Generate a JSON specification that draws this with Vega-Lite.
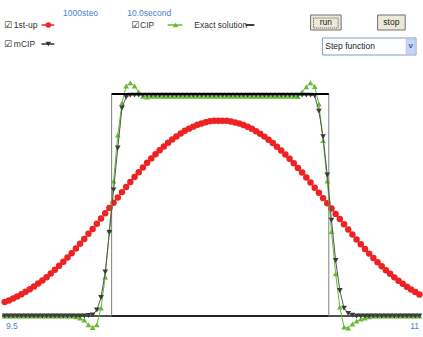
{
"$schema": "https://vega.github.io/schema/vega-lite/v6.json",
"width": 423, "height": 337,
"autosize": {"type": "fit", "contains": "padding"},
"padding": 0,
"background": "white",
"config": {"view": {"stroke": null}, "font": "Liberation Sans"},
"datasets": {
"grid": [
{"x":9.5,"up":0.063,"cip":0,"mcip":0},{"x":9.515,"up":0.070,"cip":0,"mcip":0},{"x":9.53,"up":0.079,"cip":0,"mcip":0},{"x":9.545,"up":0.088,"cip":0,"mcip":0},{"x":9.56,"up":0.098,"cip":0,"mcip":0},
{"x":9.575,"up":0.109,"cip":0,"mcip":0},{"x":9.59,"up":0.120,"cip":0,"mcip":0},{"x":9.605,"up":0.133,"cip":0,"mcip":0},{"x":9.62,"up":0.146,"cip":0,"mcip":0},{"x":9.635,"up":0.160,"cip":0,"mcip":0},
{"x":9.65,"up":0.175,"cip":0,"mcip":0},{"x":9.665,"up":0.191,"cip":0,"mcip":0},{"x":9.68,"up":0.208,"cip":0,"mcip":0},{"x":9.695,"up":0.226,"cip":0,"mcip":0},{"x":9.71,"up":0.244,"cip":0,"mcip":0},
{"x":9.725,"up":0.263,"cip":0,"mcip":0},{"x":9.74,"up":0.283,"cip":0,"mcip":0},{"x":9.755,"up":0.304,"cip":-0.004,"mcip":0},{"x":9.77,"up":0.325,"cip":-0.009,"mcip":0},{"x":9.785,"up":0.347,"cip":-0.018,"mcip":0},
{"x":9.8,"up":0.370,"cip":-0.04,"mcip":0.002},{"x":9.815,"up":0.392,"cip":-0.052,"mcip":0.005},{"x":9.83,"up":0.416,"cip":-0.04,"mcip":0.027},{"x":9.845,"up":0.439,"cip":0.036,"mcip":0.083},{"x":9.86,"up":0.463,"cip":0.176,"mcip":0.198},
{"x":9.875,"up":0.487,"cip":0.387,"mcip":0.376},{"x":9.89,"up":0.510,"cip":0.608,"mcip":0.568},{"x":9.905,"up":0.534,"cip":0.815,"mcip":0.757},{"x":9.92,"up":0.558,"cip":0.959,"mcip":0.937},{"x":9.935,"up":0.581,"cip":1.036,"mcip":0.986},
{"x":9.95,"up":0.604,"cip":1.05,"mcip":0.995},{"x":9.965,"up":0.626,"cip":1.036,"mcip":0.995},{"x":9.98,"up":0.648,"cip":1.009,"mcip":0.995},{"x":9.995,"up":0.669,"cip":0.99,"mcip":0.995},{"x":10.01,"up":0.690,"cip":0.986,"mcip":0.995},
{"x":10.025,"up":0.710,"cip":0.99,"mcip":0.995},{"x":10.04,"up":0.729,"cip":0.99,"mcip":0.995},{"x":10.055,"up":0.747,"cip":0.99,"mcip":0.995},{"x":10.07,"up":0.764,"cip":0.99,"mcip":0.995},{"x":10.085,"up":0.780,"cip":0.99,"mcip":0.995},
{"x":10.1,"up":0.795,"cip":0.99,"mcip":0.995},{"x":10.115,"up":0.809,"cip":0.99,"mcip":0.995},{"x":10.13,"up":0.822,"cip":0.99,"mcip":0.995},{"x":10.145,"up":0.834,"cip":0.99,"mcip":0.995},{"x":10.16,"up":0.844,"cip":0.99,"mcip":0.995},
{"x":10.175,"up":0.853,"cip":0.99,"mcip":0.995},{"x":10.19,"up":0.861,"cip":0.99,"mcip":0.995},{"x":10.205,"up":0.867,"cip":0.99,"mcip":0.995},{"x":10.22,"up":0.873,"cip":0.99,"mcip":0.995},{"x":10.235,"up":0.877,"cip":0.99,"mcip":0.995},
{"x":10.25,"up":0.879,"cip":0.99,"mcip":0.995},{"x":10.265,"up":0.880,"cip":0.99,"mcip":0.995},{"x":10.28,"up":0.880,"cip":0.99,"mcip":0.995},{"x":10.295,"up":0.879,"cip":0.99,"mcip":0.995},{"x":10.31,"up":0.876,"cip":0.99,"mcip":0.995},
{"x":10.325,"up":0.872,"cip":0.99,"mcip":0.995},{"x":10.34,"up":0.867,"cip":0.99,"mcip":0.995},{"x":10.355,"up":0.860,"cip":0.99,"mcip":0.995},{"x":10.37,"up":0.852,"cip":0.99,"mcip":0.995},{"x":10.385,"up":0.843,"cip":0.99,"mcip":0.995},
{"x":10.4,"up":0.832,"cip":0.99,"mcip":0.995},{"x":10.415,"up":0.821,"cip":0.99,"mcip":0.995},{"x":10.43,"up":0.808,"cip":0.99,"mcip":0.995},{"x":10.445,"up":0.794,"cip":0.99,"mcip":0.995},{"x":10.46,"up":0.779,"cip":0.99,"mcip":0.995},
{"x":10.475,"up":0.762,"cip":0.99,"mcip":0.995},{"x":10.49,"up":0.745,"cip":0.99,"mcip":0.995},{"x":10.505,"up":0.727,"cip":0.99,"mcip":0.995},{"x":10.52,"up":0.708,"cip":0.99,"mcip":0.995},{"x":10.535,"up":0.688,"cip":0.99,"mcip":0.995},
{"x":10.55,"up":0.667,"cip":0.988,"mcip":0.995},{"x":10.565,"up":0.646,"cip":1.009,"mcip":0.995},{"x":10.58,"up":0.624,"cip":1.032,"mcip":0.995},{"x":10.595,"up":0.601,"cip":1.05,"mcip":0.995},{"x":10.61,"up":0.578,"cip":1.034,"mcip":0.992},
{"x":10.625,"up":0.555,"cip":0.955,"mcip":0.923},{"x":10.64,"up":0.531,"cip":0.79,"mcip":0.808},{"x":10.655,"up":0.508,"cip":0.608,"mcip":0.635},{"x":10.67,"up":0.484,"cip":0.38,"mcip":0.432},{"x":10.685,"up":0.460,"cip":0.19,"mcip":0.25},
{"x":10.7,"up":0.437,"cip":0.04,"mcip":0.115},{"x":10.715,"up":0.413,"cip":-0.05,"mcip":0.035},{"x":10.73,"up":0.390,"cip":-0.054,"mcip":0.012},{"x":10.745,"up":0.367,"cip":-0.036,"mcip":0.004},{"x":10.76,"up":0.345,"cip":-0.023,"mcip":0},
{"x":10.775,"up":0.323,"cip":-0.014,"mcip":0},{"x":10.79,"up":0.302,"cip":-0.009,"mcip":0},{"x":10.805,"up":0.281,"cip":-0.004,"mcip":0},{"x":10.82,"up":0.261,"cip":0,"mcip":0},{"x":10.835,"up":0.242,"cip":0,"mcip":0},
{"x":10.85,"up":0.224,"cip":0,"mcip":0},{"x":10.865,"up":0.206,"cip":0,"mcip":0},{"x":10.88,"up":0.190,"cip":0,"mcip":0},{"x":10.895,"up":0.174,"cip":0,"mcip":0},{"x":10.91,"up":0.159,"cip":0,"mcip":0},
{"x":10.925,"up":0.145,"cip":0,"mcip":0},{"x":10.94,"up":0.132,"cip":0,"mcip":0},{"x":10.955,"up":0.119,"cip":0,"mcip":0},{"x":10.97,"up":0.108,"cip":0,"mcip":0},{"x":10.985,"up":0.097,"cip":0,"mcip":0}
],
"exact": [{"x":9.4905,"y":0,"o":0},{"x":9.883,"y":0,"o":1},{"x":9.883,"y":1,"o":2},{"x":10.6605,"y":1,"o":3},{"x":10.6605,"y":0,"o":4},{"x":10.9834,"y":0,"o":5}],
"legend": [
{"series":"1st-up","x":9.6317,"x2":9.6776,"xm":9.6564,"y":1.3108},
{"series":"CIP","x":10.0834,"x2":10.1364,"xm":10.1117,"y":1.3108},
{"series":"mCIP","x":9.6317,"x2":9.6776,"xm":9.6564,"y":1.2252},
{"series":"Exact solution","x":10.3623,"x2":10.394,"xm":10.378,"y":1.3108}
],
"labels": [{"label":"1st-up","x":9.5329,"y":1.3108},{"label":"CIP","x":9.9846,"y":1.3108},{"label":"Exact solution","x":10.1787,"y":1.3108},{"label":"mCIP","x":9.5329,"y":1.2252}],
"checks": [{"x":9.4976,"y":1.3108},{"x":9.9529,"y":1.3108},{"x":9.4976,"y":1.2252}],
"info": [{"label":"1000steo","x":9.7093,"y":1.3649},{"label":"10.0second","x":9.9387,"y":1.3649}],
"buttons": [{"label":"run","x":10.5952,"x2":10.7046,"y":1.3559,"y2":1.2883,"xm":10.6499,"ym":1.3221},{"label":"stop","x":10.8352,"x2":10.934,"y":1.3559,"y2":1.2883,"xm":10.8846,"ym":1.3221}]
},
"layer": [
{"data":{"values":[{"y":0}]},"mark":{"type":"rule","color":"#222222","strokeWidth":2},
 "encoding":{"y":{"field":"y","type":"quantitative","scale":{"domain":[-0.0946,1.4234],"nice":false,"zero":false},"axis":null}}},
{"data":{"name":"exact"},"mark":{"type":"line","color":"#808080","strokeWidth":1},
 "encoding":{"x":{"field":"x","type":"quantitative","scale":{"domain":[9.4905,10.9834],"nice":false,"zero":false},"axis":null},
 "y":{"field":"y","type":"quantitative","scale":{"domain":[-0.0946,1.4234],"nice":false,"zero":false},"axis":null},
 "order":{"field":"o","type":"quantitative"}}},
{"data":{"name":"grid"},"mark":{"type":"line","color":"#ee2222","strokeWidth":1},
 "encoding":{"x":{"field":"x","type":"quantitative","scale":{"domain":[9.4905,10.9834],"nice":false,"zero":false},"axis":null},
 "y":{"field":"up","type":"quantitative","scale":{"domain":[-0.0946,1.4234],"nice":false,"zero":false},"axis":null}}},
{"data":{"name":"grid"},"mark":{"type":"point","shape":"circle","filled":true,"opacity":1,"size":42,"color":"#ee2222"},
 "encoding":{"x":{"field":"x","type":"quantitative","scale":{"domain":[9.4905,10.9834],"nice":false,"zero":false},"axis":null},
 "y":{"field":"up","type":"quantitative","scale":{"domain":[-0.0946,1.4234],"nice":false,"zero":false},"axis":null}}},
{"data":{"name":"grid"},"mark":{"type":"line","color":"#66bb33","strokeWidth":1},
 "encoding":{"x":{"field":"x","type":"quantitative","scale":{"domain":[9.4905,10.9834],"nice":false,"zero":false},"axis":null},
 "y":{"field":"cip","type":"quantitative","scale":{"domain":[-0.0946,1.4234],"nice":false,"zero":false},"axis":null}}},
{"data":{"name":"grid"},"mark":{"type":"point","shape":"triangle-up","filled":true,"opacity":1,"size":32,"color":"#66bb33"},
 "encoding":{"x":{"field":"x","type":"quantitative","scale":{"domain":[9.4905,10.9834],"nice":false,"zero":false},"axis":null},
 "y":{"field":"cip","type":"quantitative","scale":{"domain":[-0.0946,1.4234],"nice":false,"zero":false},"axis":null}}},
{"data":{"name":"grid"},"mark":{"type":"line","color":"#555555","strokeWidth":1},
 "encoding":{"x":{"field":"x","type":"quantitative","scale":{"domain":[9.4905,10.9834],"nice":false,"zero":false},"axis":null},
 "y":{"field":"mcip","type":"quantitative","scale":{"domain":[-0.0946,1.4234],"nice":false,"zero":false},"axis":null}}},
{"data":{"name":"grid"},"mark":{"type":"point","shape":"triangle-down","filled":true,"opacity":1,"size":32,"color":"#3a3a3a"},
 "encoding":{"x":{"field":"x","type":"quantitative","scale":{"domain":[9.4905,10.9834],"nice":false,"zero":false},"axis":null},
 "y":{"field":"mcip","type":"quantitative","scale":{"domain":[-0.0946,1.4234],"nice":false,"zero":false},"axis":null}}},
{"data":{"values":[{"x":9.883,"x2":10.6605,"y":1}]},"mark":{"type":"rule","color":"#000000","strokeWidth":2},
 "encoding":{"x":{"field":"x","type":"quantitative","scale":{"domain":[9.4905,10.9834],"nice":false,"zero":false},"axis":null},
 "x2":{"field":"x2"},
 "y":{"field":"y","type":"quantitative","scale":{"domain":[-0.0946,1.4234],"nice":false,"zero":false},"axis":null}}},
{"data":{"name":"legend"},"mark":{"type":"rule","strokeWidth":1.5},
 "encoding":{"x":{"field":"x","type":"quantitative","scale":{"domain":[9.4905,10.9834],"nice":false,"zero":false},"axis":null},
 "x2":{"field":"x2"},
 "y":{"field":"y","type":"quantitative","scale":{"domain":[-0.0946,1.4234],"nice":false,"zero":false},"axis":null},
 "color":{"field":"series","type":"nominal","scale":{"domain":["1st-up","CIP","mCIP","Exact solution"],"range":["#ee2222","#66bb33","#333333","#000000"]},"legend":null}}},
{"data":{"name":"legend"},"transform":[{"filter":"datum.series !== 'Exact solution'"}],"mark":{"type":"point","filled":true,"opacity":1,"size":30},
 "encoding":{"x":{"field":"xm","type":"quantitative","scale":{"domain":[9.4905,10.9834],"nice":false,"zero":false},"axis":null},
 "y":{"field":"y","type":"quantitative","scale":{"domain":[-0.0946,1.4234],"nice":false,"zero":false},"axis":null},
 "color":{"field":"series","type":"nominal","scale":{"domain":["1st-up","CIP","mCIP","Exact solution"],"range":["#ee2222","#66bb33","#333333","#000000"]},"legend":null},
 "shape":{"field":"series","type":"nominal","scale":{"domain":["1st-up","CIP","mCIP"],"range":["circle","triangle-up","triangle-down"]},"legend":null}}},
{"data":{"name":"checks"},"mark":{"type":"text","text":"☑","font":"DejaVu Sans","fontSize":9,"align":"left","baseline":"middle","color":"#222222"},
 "encoding":{"x":{"field":"x","type":"quantitative","scale":{"domain":[9.4905,10.9834],"nice":false,"zero":false},"axis":null},
 "y":{"field":"y","type":"quantitative","scale":{"domain":[-0.0946,1.4234],"nice":false,"zero":false},"axis":null}}},
{"data":{"name":"labels"},"mark":{"type":"text","fontSize":8.5,"align":"left","baseline":"middle","color":"#333333"},
 "encoding":{"x":{"field":"x","type":"quantitative","scale":{"domain":[9.4905,10.9834],"nice":false,"zero":false},"axis":null},
 "y":{"field":"y","type":"quantitative","scale":{"domain":[-0.0946,1.4234],"nice":false,"zero":false},"axis":null},
 "text":{"field":"label"}}},
{"data":{"name":"info"},"mark":{"type":"text","fontSize":8.5,"align":"left","baseline":"middle","color":"#4a7fcc"},
 "encoding":{"x":{"field":"x","type":"quantitative","scale":{"domain":[9.4905,10.9834],"nice":false,"zero":false},"axis":null},
 "y":{"field":"y","type":"quantitative","scale":{"domain":[-0.0946,1.4234],"nice":false,"zero":false},"axis":null},
 "text":{"field":"label"}}},
{"data":{"values":[{"label":"9.5","x":9.5046,"y":-0.0473}]},"mark":{"type":"text","fontSize":8.5,"align":"left","baseline":"middle","color":"#4a7fcc"},
 "encoding":{"x":{"field":"x","type":"quantitative","scale":{"domain":[9.4905,10.9834],"nice":false,"zero":false},"axis":null},
 "y":{"field":"y","type":"quantitative","scale":{"domain":[-0.0946,1.4234],"nice":false,"zero":false},"axis":null},
 "text":{"field":"label"}}},
{"data":{"values":[{"label":"11","x":10.9834,"y":-0.0473}]},"mark":{"type":"text","fontSize":8.5,"align":"right","baseline":"middle","color":"#4a7fcc"},
 "encoding":{"x":{"field":"x","type":"quantitative","scale":{"domain":[9.4905,10.9834],"nice":false,"zero":false},"axis":null},
 "y":{"field":"y","type":"quantitative","scale":{"domain":[-0.0946,1.4234],"nice":false,"zero":false},"axis":null},
 "text":{"field":"label"}}},
{"data":{"name":"buttons"},"mark":{"type":"rect","fill":"#ece9d8","stroke":"#707070","strokeWidth":1},
 "encoding":{"x":{"field":"x","type":"quantitative","scale":{"domain":[9.4905,10.9834],"nice":false,"zero":false},"axis":null},
 "x2":{"field":"x2"},
 "y":{"field":"y","type":"quantitative","scale":{"domain":[-0.0946,1.4234],"nice":false,"zero":false},"axis":null},
 "y2":{"field":"y2"}}},
{"data":{"values":[{"x":10.6058,"x2":10.694,"y":1.3423,"y2":1.2973}]},"mark":{"type":"rect","fill":null,"stroke":"#555555","strokeWidth":1,"strokeDash":[1,1]},
 "encoding":{"x":{"field":"x","type":"quantitative","scale":{"domain":[9.4905,10.9834],"nice":false,"zero":false},"axis":null},
 "x2":{"field":"x2"},
 "y":{"field":"y","type":"quantitative","scale":{"domain":[-0.0946,1.4234],"nice":false,"zero":false},"axis":null},
 "y2":{"field":"y2"}}},
{"data":{"name":"buttons"},"mark":{"type":"text","fontSize":8.5,"align":"center","baseline":"middle","color":"#222222"},
 "encoding":{"x":{"field":"xm","type":"quantitative","scale":{"domain":[9.4905,10.9834],"nice":false,"zero":false},"axis":null},
 "y":{"field":"ym","type":"quantitative","scale":{"domain":[-0.0946,1.4234],"nice":false,"zero":false},"axis":null},
 "text":{"field":"label"}}},
{"data":{"values":[{"x":10.6376,"x2":10.9728,"y":1.2523,"y2":1.1757}]},"mark":{"type":"rect","fill":"#ffffff","stroke":"#7f9db9","strokeWidth":1},
 "encoding":{"x":{"field":"x","type":"quantitative","scale":{"domain":[9.4905,10.9834],"nice":false,"zero":false},"axis":null},
 "x2":{"field":"x2"},
 "y":{"field":"y","type":"quantitative","scale":{"domain":[-0.0946,1.4234],"nice":false,"zero":false},"axis":null},
 "y2":{"field":"y2"}}},
{"data":{"values":[{"x":10.9376,"x2":10.9693,"y":1.2478,"y2":1.1802}]},"mark":{"type":"rect","fill":"#c6d6fa","stroke":"#b4c8f0","strokeWidth":1},
 "encoding":{"x":{"field":"x","type":"quantitative","scale":{"domain":[9.4905,10.9834],"nice":false,"zero":false},"axis":null},
 "x2":{"field":"x2"},
 "y":{"field":"y","type":"quantitative","scale":{"domain":[-0.0946,1.4234],"nice":false,"zero":false},"axis":null},
 "y2":{"field":"y2"}}},
{"data":{"values":[{"label":"Step function","x":10.6481,"y":1.214}]},"mark":{"type":"text","fontSize":8.5,"align":"left","baseline":"middle","color":"#222222"},
 "encoding":{"x":{"field":"x","type":"quantitative","scale":{"domain":[9.4905,10.9834],"nice":false,"zero":false},"axis":null},
 "y":{"field":"y","type":"quantitative","scale":{"domain":[-0.0946,1.4234],"nice":false,"zero":false},"axis":null},
 "text":{"field":"label"}}},
{"data":{"values":[{"label":"v","x":10.9535,"y":1.218}]},"mark":{"type":"text","fontSize":8,"fontWeight":"bold","align":"center","baseline":"middle","color":"#4d6185"},
 "encoding":{"x":{"field":"x","type":"quantitative","scale":{"domain":[9.4905,10.9834],"nice":false,"zero":false},"axis":null},
 "y":{"field":"y","type":"quantitative","scale":{"domain":[-0.0946,1.4234],"nice":false,"zero":false},"axis":null},
 "text":{"field":"label"}}}
]
}
